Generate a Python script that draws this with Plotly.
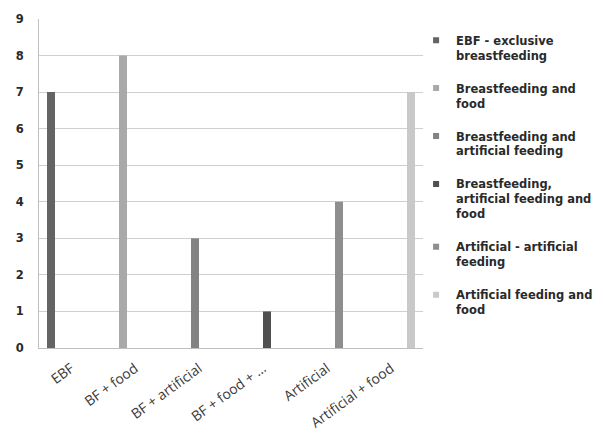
import plotly.graph_objects as go

categories = ["EBF", "BF + food", "BF + artificial", "BF + food + …", "Artificial", "Artificial + food"]
series_names = [
    "EBF - exclusive<br>breastfeeding",
    "Breastfeeding and<br>food",
    "Breastfeeding and<br>artificial feeding",
    "Breastfeeding,<br>artificial feeding and<br>food",
    "Artificial - artificial<br>feeding",
    "Artificial feeding and<br>food",
]
values = [7, 8, 3, 1, 4, 7]
colors = ["#646464", "#a9a9a9", "#838383", "#505050", "#8e8e8e", "#c9c9c9"]
y_ticks = [0, 1, 2, 3, 4, 5, 6, 7, 8, 9]

fig = go.Figure()
for i, name in enumerate(series_names):
    yv = [values[i] if j == i else None for j in range(len(categories))]
    fig.add_trace(go.Bar(x=categories, y=yv, name=name, marker_color=colors[i],
                         marker_line_width=0, showlegend=False, legendgroup=str(i)))
for i, name in enumerate(series_names):
    fig.add_trace(go.Scatter(x=[None], y=[None], mode="markers", name=name,
                             marker=dict(symbol="square", size=6, color=colors[i]),
                             legendgroup=str(i), showlegend=True))

fig.update_layout(
    width=603, height=434,
    margin=dict(l=31, r=188, t=11, b=94, autoexpand=False),
    paper_bgcolor="white", plot_bgcolor="white",
    barmode="group", bargap=0.25, bargroupgap=0,
    font=dict(family="Open Sans", size=12, color="#333333"),
    legend=dict(x=0.982, xanchor="left", y=0.978, yanchor="top",
                font=dict(family="DejaVu Sans", size=11.5, color="#2a2a2a", weight="bold"),
                traceorder="grouped", tracegroupgap=15, valign="top",
                itemwidth=30, bgcolor="rgba(0,0,0,0)"),
)
fig.update_yaxes(range=[0, 9], tickvals=y_ticks, showgrid=True, gridcolor="#cfcfcf",
                 gridwidth=1, showline=True, linecolor="#bfbfbf", linewidth=1,
                 zeroline=False, ticks="", ticklabelstandoff=12, automargin=False,
                 tickfont=dict(family="DejaVu Sans", size=11.5, color="#2a2a2a", weight="bold"))
fig.update_xaxes(showline=True, linecolor="#bfbfbf", linewidth=1, tickangle=-36,
                 ticks="", ticklabelstandoff=6, automargin=False,
                 tickfont=dict(family="Open Sans", size=14, color="#3a3a3a"))

fig.write_html("out.html")
